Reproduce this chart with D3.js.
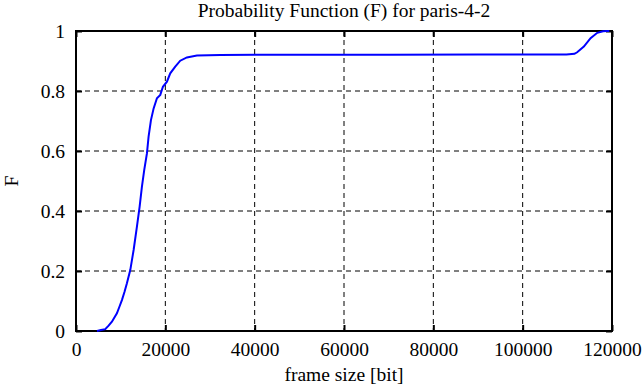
<!DOCTYPE html>
<html>
<head>
<meta charset="utf-8">
<script src="https://cdn.jsdelivr.net/npm/d3@7"></script>
<style>
  body { margin: 0; background: #fff; }
  svg text { font-family: "Liberation Serif", "Times New Roman", "DejaVu Serif", serif; fill: #000; }
</style>
</head>
<body>
<div class="chart"></div>
<script>
// data: frame size [bit] vs cumulative F
const frameSize = [4700, 5600, 6550, 7300, 8040, 8600, 9160, 9700, 10280, 10850, 11400, 12150, 12900, 13640,
  14240, 14760, 15280, 15880, 16250, 16780, 17380, 18120, 18870, 19460, 20360, 21100, 22220, 23340, 24830,
  27070, 32300, 50000, 70000, 90000, 105000, 109800, 111600, 112200, 113700, 115200, 116700, 118000, 118900, 119400];
const probF = [0.000, 0.003, 0.006, 0.018, 0.031, 0.045, 0.059, 0.080, 0.103, 0.130, 0.159, 0.203, 0.270, 0.348,
  0.414, 0.481, 0.537, 0.592, 0.648, 0.703, 0.742, 0.776, 0.787, 0.814, 0.831, 0.859, 0.881, 0.901, 0.912,
  0.918, 0.920, 0.921, 0.921, 0.922, 0.922, 0.922, 0.924, 0.929, 0.948, 0.976, 0.994, 0.999, 1.000, 1.000];
const xTicks = [0, 20000, 40000, 60000, 80000, 100000, 120000];
const yTicks = [0, 0.2, 0.4, 0.6, 0.8, 1];

const width = 644, height = 387;
const margin = {top: 31, right: 32, bottom: 56, left: 76};
const innerWidth = width - margin.left - margin.right;
const innerHeight = height - margin.top - margin.bottom;
const serif = "'Liberation Serif', 'Times New Roman', serif";

const svg = d3.select(".chart").append("svg")
  .attr("width", width)
  .attr("height", height)
  .attr("font-family", serif);

const g = svg.append("g")
  .attr("transform", "translate(" + margin.left + "," + margin.top + ")");

const x = d3.scaleLinear().domain([0, 120000]).range([0, innerWidth]);
const y = d3.scaleLinear().domain([0, 1]).range([innerHeight, 0]);

// dashed grid
g.append("g").selectAll("line")
  .data(xTicks.slice(1, -1))
  .join("line")
  .attr("x1", d => x(d)).attr("x2", d => x(d))
  .attr("y1", 0).attr("y2", innerHeight)
  .attr("stroke", "#000").attr("stroke-width", 1)
  .attr("stroke-dasharray", "5,4");

g.append("g").selectAll("line")
  .data(yTicks.slice(1, -1))
  .join("line")
  .attr("y1", d => y(d)).attr("y2", d => y(d))
  .attr("x1", 0).attr("x2", innerWidth)
  .attr("stroke", "#000").attr("stroke-width", 1)
  .attr("stroke-dasharray", "5,4");

// axes with inward ticks
const fmt = d3.format("d");
const xAxis = g.append("g")
  .attr("transform", "translate(0," + innerHeight + ")")
  .call(d3.axisBottom(x).tickValues(xTicks).tickFormat(fmt).tickSizeInner(-6).tickSizeOuter(0).tickPadding(11));
const xTop = g.append("g")
  .call(d3.axisTop(x).tickValues(xTicks).tickFormat("").tickSizeInner(-6).tickSizeOuter(0));
const yAxis = g.append("g")
  .call(d3.axisLeft(y).tickValues(yTicks).tickFormat(d3.format("")).tickSizeInner(-6).tickSizeOuter(0).tickPadding(11));
const yRight = g.append("g")
  .attr("transform", "translate(" + innerWidth + ",0)")
  .call(d3.axisRight(y).tickValues(yTicks).tickFormat("").tickSizeInner(-6).tickSizeOuter(0));

[xAxis, xTop, yAxis, yRight].forEach(a => {
  a.attr("font-family", serif).attr("font-size", 19.5);
  a.select(".domain").remove();
  a.selectAll("line").attr("stroke", "#000").attr("stroke-width", 2);
});

// frame
g.append("rect")
  .attr("x", 0).attr("y", 0)
  .attr("width", innerWidth).attr("height", innerHeight)
  .attr("fill", "none")
  .attr("stroke", "#000")
  .attr("stroke-width", 2);

// the curve
const line = d3.line()
  .x((d, i) => x(frameSize[i]))
  .y(d => y(d));

g.append("path")
  .datum(probF)
  .attr("fill", "none")
  .attr("stroke", "#0000ff")
  .attr("stroke-width", 2)
  .attr("d", line);

// labels
svg.append("text")
  .attr("x", margin.left + innerWidth / 2)
  .attr("y", 17)
  .style("text-anchor", "middle")
  .style("font-size", "19.5px")
  .text("Probability Function (F) for paris-4-2");

svg.append("text")
  .attr("x", margin.left + innerWidth / 2)
  .attr("y", 381)
  .style("text-anchor", "middle")
  .style("font-size", "19.5px")
  .text("frame size [bit]");

svg.append("text")
  .attr("transform", "translate(18," + (margin.top + innerHeight / 2) + ") rotate(-90)")
  .style("text-anchor", "middle")
  .style("font-size", "19.5px")
  .text("F");
</script>
</body>
</html>
